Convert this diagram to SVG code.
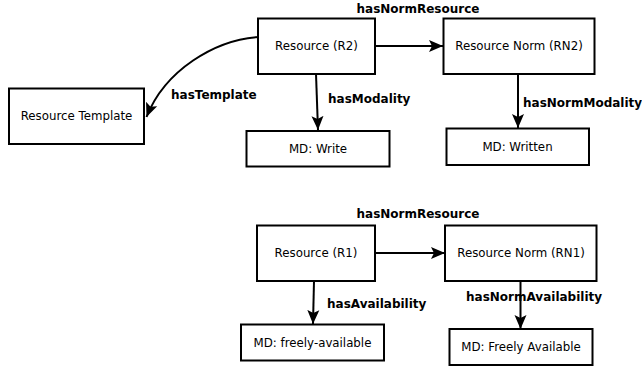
<svg xmlns="http://www.w3.org/2000/svg" width="642" height="366" viewBox="0 0 642 366">
<style>
.box{fill:#fff;stroke:#000;stroke-width:2}
.t{font-family:"DejaVu Sans",sans-serif;font-size:11.8px;text-anchor:middle;fill:#000}
.l{font-family:"DejaVu Sans",sans-serif;font-size:12px;font-weight:bold;fill:#000}
.c{fill:none;stroke:#000;stroke-width:2}
</style>
<defs>
<marker id="ah" markerUnits="userSpaceOnUse" markerWidth="16" markerHeight="14" refX="14" refY="6" orient="auto" viewBox="0 0 16 12">
<path d="M0,0 L14,6 L0,12 L3,6 Z" fill="#000"/>
</marker>
</defs>
<rect width="642" height="366" fill="#fff"/>
<g id="connectors">
<path class="c" d="M258,37 C215,40 165,70 146.5,117" marker-end="url(#ah)"/>
<path class="c" d="M375,46 L443,46" marker-end="url(#ah)"/>
<path class="c" d="M316,74 L318,130" marker-end="url(#ah)"/>
<path class="c" d="M518,74 L518,128" marker-end="url(#ah)"/>
<path class="c" d="M375,253 L445,253" marker-end="url(#ah)"/>
<path class="c" d="M314,281 L313,324" marker-end="url(#ah)"/>
<path class="c" d="M520.5,281 L520.5,329" marker-end="url(#ah)"/>
<text class="l" x="418" y="13" text-anchor="middle">hasNormResource</text>
<text class="l" x="171" y="98.5">hasTemplate</text>
<text class="l" x="328" y="102.5">hasModality</text>
<text class="l" x="523" y="106.5">hasNormModality</text>
<text class="l" x="418" y="218" text-anchor="middle">hasNormResource</text>
<text class="l" x="327" y="307.5">hasAvailability</text>
<text class="l" x="466" y="300.5">hasNormAvailability</text>
</g>
<g id="R2"><rect class="box" x="258" y="18.5" width="117" height="55.5"/><text class="t" x="316.5" y="50">Resource (R2)</text></g>
<g id="RN2"><rect class="box" x="443.5" y="18.5" width="151" height="55.5"/><text class="t" x="519" y="50">Resource Norm (RN2)</text></g>
<g id="RT"><rect class="box" x="9" y="88.5" width="135" height="55.5"/><text class="t" x="76.5" y="120">Resource Template</text></g>
<g id="MDWrite"><rect class="box" x="246.5" y="131" width="143" height="35.5"/><text class="t" x="318" y="152.5">MD: Write</text></g>
<g id="MDWritten"><rect class="box" x="446.5" y="128.5" width="142.5" height="36.5"/><text class="t" x="517.5" y="151">MD: Written</text></g>
<g id="R1"><rect class="box" x="257" y="225.5" width="118" height="55.5"/><text class="t" x="316" y="257">Resource (R1)</text></g>
<g id="RN1"><rect class="box" x="445" y="225.5" width="151.5" height="55.5"/><text class="t" x="521" y="257">Resource Norm (RN1)</text></g>
<g id="MDfa"><rect class="box" x="241" y="324.5" width="143" height="36"/><text class="t" x="312.5" y="346.5">MD: freely-available</text></g>
<g id="MDFA"><rect class="box" x="449.5" y="329" width="143" height="36"/><text class="t" x="521" y="351">MD: Freely Available</text></g>
</svg>
